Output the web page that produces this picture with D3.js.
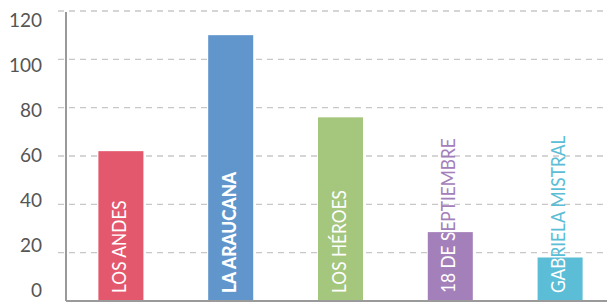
<!DOCTYPE html>
<meta charset="utf-8">
<head>
    <title>Bar chart</title>
</head>
<style>
    body { margin: 0; background: #fff; }
</style>
<script src="https://d3js.org/d3.v7.min.js"></script>
<body>
    <div id="chart"></div>
</body>
<script>

    // data
    var categories = ["LOS ANDES", "LA ARAUCANA", "LOS HÉROES", "18 DE SEPTIEMBRE", "GABRIELA MISTRAL"];
    var values = [62, 110, 76, 28.5, 18];
    var colors = ["#e4586e", "#6096cc", "#a4c67d", "#a480ba", "#5bbdd6"];
    var boldLabel = [false, true, false, false, false];
    var yTicks = [0, 20, 40, 60, 80, 100, 120];

    var W = 607, H = 302;
    var axisX = 66;

    var svg = d3.select("#chart")
        .append("svg")
        .attr("width", W)
        .attr("height", H);

    var y = d3.scaleLinear()
        .domain([0, 120])
        .range([301, 11]);

    // tick labels sit on their own, slightly tighter spacing
    var yLabel = d3.scaleLinear()
        .domain([0, 120])
        .range([290, 20]);

    var x = d3.scaleBand()
        .domain(categories)
        .range([axisX, 615])
        .paddingInner(0.59)
        .paddingOuter(0.295);

    // dashed grid
    svg.append("g")
        .selectAll("line")
        .data(yTicks.filter(function (d) { return d > 0; }))
        .join("line")
        .attr("x1", 58)
        .attr("x2", W)
        .attr("y1", function (d) { return y(d); })
        .attr("y2", function (d) { return y(d); })
        .attr("stroke", "#c8c8c8")
        .attr("stroke-width", 1.3)
        .attr("stroke-dasharray", "6,5");

    // tick labels
    svg.append("g")
        .selectAll("text")
        .data(yTicks)
        .join("text")
        .attr("x", 42)
        .attr("y", function (d) { return yLabel(d); })
        .attr("dy", "0.36em")
        .attr("text-anchor", "end")
        .attr("font-family", "Lato, sans-serif")
        .attr("font-size", 19)
        .attr("fill", "#555")
        .text(function (d) { return d; });

    var data = categories.map(function (c, i) {
        return { name: c, value: values[i], color: colors[i], bold: boldLabel[i], i: i };
    });

    var defs = svg.append("defs");
    defs.selectAll("clipPath")
        .data(data)
        .join("clipPath")
        .attr("id", function (d) { return "clip" + d.i; })
        .append("rect")
        .attr("x", function (d) { return x(d.name); })
        .attr("y", function (d) { return y(d.value); })
        .attr("width", x.bandwidth())
        .attr("height", function (d) { return y(0) - y(d.value); });

    // bars
    svg.append("g")
        .selectAll("rect")
        .data(data)
        .join("rect")
        .attr("x", function (d) { return x(d.name); })
        .attr("y", function (d) { return y(d.value); })
        .attr("width", x.bandwidth())
        .attr("height", function (d) { return y(0) - y(d.value); })
        .attr("fill", function (d) { return d.color; });

    function labelPos(d) {
        return "translate(" + (x(d.name) + x.bandwidth() / 2 + 5) + "," + (y(0) - 8) + ") rotate(-90) scale(0.91,1)";
    }

    function styleLabel(sel) {
        sel.attr("transform", labelPos)
            .attr("font-family", "Lato, sans-serif")
            .attr("font-size", 19)
            .attr("font-weight", function (d) { return d.bold ? 900 : 400; })
            .text(function (d) { return d.name; });
    }

    // labels: colored outside the bar, white inside
    var labels = svg.append("g");
    labels.selectAll("text.out")
        .data(data)
        .join("text")
        .attr("class", "out")
        .call(styleLabel)
        .attr("fill", function (d) { return d.color; });

    labels.selectAll("g.in")
        .data(data)
        .join("g")
        .attr("class", "in")
        .attr("clip-path", function (d) { return "url(#clip" + d.i + ")"; })
        .append("text")
        .call(styleLabel)
        .attr("fill", "#fff");

    // axis lines
    svg.append("line")
        .attr("x1", axisX).attr("x2", axisX)
        .attr("y1", 12).attr("y2", y(0))
        .attr("stroke", "#9a9a9a")
        .attr("stroke-width", 2);

    svg.append("line")
        .attr("x1", axisX).attr("x2", W)
        .attr("y1", y(0)).attr("y2", y(0))
        .attr("stroke", "#9a9a9a")
        .attr("stroke-width", 2);

</script>
